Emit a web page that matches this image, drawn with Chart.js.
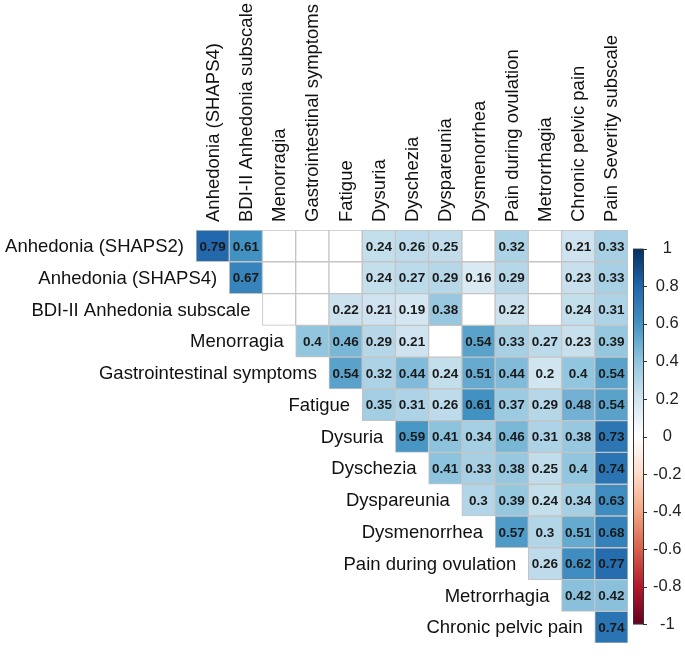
<!DOCTYPE html>
<html lang="en">
<head>
<meta charset="UTF-8">
<title>Correlation matrix</title>
<script src="https://cdn.jsdelivr.net/npm/chart.js"></script>
<style>
  body { margin: 0; background: #fff; }
  #wrap { width: 685px; height: 670px; }
</style>
</head>
<body>
<div id="wrap"><canvas id="corr" width="685" height="670"></canvas></div>
<script>
// row and column labels
const rowLabels = ['Anhedonia (SHAPS2)', 'Anhedonia (SHAPS4)', 'BDI-II Anhedonia subscale', 'Menorragia',
  'Gastrointestinal symptoms', 'Fatigue', 'Dysuria', 'Dyschezia', 'Dyspareunia', 'Dysmenorrhea',
  'Pain during ovulation', 'Metrorrhagia', 'Chronic pelvic pain'];
const colLabels = ['Anhedonia (SHAPS4)', 'BDI-II Anhedonia subscale', 'Menorragia', 'Gastrointestinal symptoms',
  'Fatigue', 'Dysuria', 'Dyschezia', 'Dyspareunia', 'Dysmenorrhea', 'Pain during ovulation',
  'Metrorrhagia', 'Chronic pelvic pain', 'Pain Severity subscale'];

// each row starts at the column with the same index; null = blank (not significant)
const rShaps2 = [0.79, 0.61, null, null, null, 0.24, 0.26, 0.25, null, 0.32, null, 0.21, 0.33];
const rShaps4 = [0.67, null, null, null, 0.24, 0.27, 0.29, 0.16, 0.29, null, 0.23, 0.33];
const rBdi = [null, null, 0.22, 0.21, 0.19, 0.38, null, 0.22, null, 0.24, 0.31];
const rMenorragia = [0.4, 0.46, 0.29, 0.21, null, 0.54, 0.33, 0.27, 0.23, 0.39];
const rGastro = [0.54, 0.32, 0.44, 0.24, 0.51, 0.44, 0.2, 0.4, 0.54];
const rFatigue = [0.35, 0.31, 0.26, 0.61, 0.37, 0.29, 0.48, 0.54];
const rDysuria = [0.59, 0.41, 0.34, 0.46, 0.31, 0.38, 0.73];
const rDyschezia = [0.41, 0.33, 0.38, 0.25, 0.4, 0.74];
const rDyspareunia = [0.3, 0.39, 0.24, 0.34, 0.63];
const rDysmenorrhea = [0.57, 0.3, 0.51, 0.68];
const rOvulation = [0.26, 0.62, 0.77];
const rMetrorrhagia = [0.42, 0.42];
const rPelvic = [0.74];

const colorbarTicks = [-1, -0.8, -0.6, -0.4, -0.2, 0, 0.2, 0.4, 0.6, 0.8, 1];

const rows = [rShaps2, rShaps4, rBdi, rMenorragia, rGastro, rFatigue, rDysuria, rDyschezia,
  rDyspareunia, rDysmenorrhea, rOvulation, rMetrorrhagia, rPelvic];

// RdBu palette from -1 to 1
const palette = ['#67001F', '#B2182B', '#D6604D', '#F4A582', '#FDDBC7', '#FFFFFF',
  '#D1E5F0', '#92C5DE', '#4393C3', '#2166AC', '#053061'];

const FONT = '"Liberation Sans", Arial, sans-serif';

function hexRgb(h) {
  return [1, 3, 5].map(i => parseInt(h.substr(i, 2), 16));
}
function colorFor(v) {
  if (v == null) return '#ffffff';
  const t = (v + 1) / 2 * (palette.length - 1);
  const i = Math.min(Math.floor(t), palette.length - 2);
  const f = t - i;
  const a = hexRgb(palette[i]), b = hexRgb(palette[i + 1]);
  const c = a.map((x, k) => Math.round(x + (b[k] - x) * f));
  return `rgb(${c[0]},${c[1]},${c[2]})`;
}
function valueAt(r, c) {
  if (c < r) return undefined;
  return rows[r][c - r];
}

// one floating-bar dataset per column
const datasets = colLabels.map((name, c) => ({
  label: name,
  data: rowLabels.map((_, r) => (r <= c ? [c, c + 1] : null)),
  backgroundColor: ctx => colorFor(valueAt(ctx.dataIndex, c)),
  borderColor: '#c4c4c4',
  borderWidth: 1,
  borderSkipped: false,
  grouped: false,
  barPercentage: 1,
  categoryPercentage: 1
}));

const extras = {
  id: 'extras',
  afterDatasetsDraw(chart) {
    const ctx = chart.ctx;
    const xs = chart.scales.x, ys = chart.scales.y;
    const area = chart.chartArea;
    ctx.save();
    // numbers in the cells
    ctx.font = 'bold 13.5px ' + FONT;
    ctx.fillStyle = '#1a1a1a';
    ctx.textAlign = 'center';
    ctx.textBaseline = 'middle';
    chart.data.datasets.forEach((ds, c) => {
      chart.getDatasetMeta(c).data.forEach((bar, r) => {
        const v = valueAt(r, c);
        if (v == null) return;
        const p = bar.getCenterPoint();
        ctx.fillText(String(v), p.x, p.y + 1);
      });
    });
    // staircase row labels
    ctx.font = '18.5px ' + FONT;
    ctx.fillStyle = '#111';
    ctx.textAlign = 'right';
    rowLabels.forEach((lab, r) => {
      ctx.fillText(lab, xs.getPixelForValue(r) - 12, ys.getPixelForValue(r) + 1);
    });
    // vertical column labels
    ctx.textAlign = 'left';
    colLabels.forEach((lab, c) => {
      ctx.save();
      ctx.translate(xs.getPixelForValue(c + 0.5) + 1, area.top - 8);
      ctx.rotate(-Math.PI / 2);
      ctx.fillText(lab, 0, 0);
      ctx.restore();
    });
    // colour bar
    const cb = chart.scales.cb;
    const top = cb.getPixelForValue(1), bot = cb.getPixelForValue(-1);
    const x0 = area.right + 5, w = 10;
    const g = ctx.createLinearGradient(0, bot, 0, top);
    palette.forEach((col, i) => g.addColorStop(i / (palette.length - 1), col));
    ctx.fillStyle = g;
    ctx.fillRect(x0, top, w, bot - top);
    ctx.strokeStyle = '#333';
    ctx.lineWidth = 1;
    ctx.strokeRect(x0 + 0.5, top + 0.5, w, bot - top - 1);
    ctx.beginPath();
    colorbarTicks.forEach(t => {
      const y = Math.round(cb.getPixelForValue(t)) + 0.5;
      ctx.moveTo(x0 + w, y);
      ctx.lineTo(x0 + w + 4, y);
    });
    ctx.stroke();
    ctx.restore();
  }
};

new Chart(document.getElementById('corr'), {
  type: 'bar',
  data: { labels: rowLabels, datasets: datasets },
  options: {
    indexAxis: 'y',
    responsive: false,
    animation: false,
    layout: { padding: { top: 0, bottom: 7, left: 0, right: 0 } },
    plugins: { legend: { display: false }, tooltip: { enabled: false } },
    scales: {
      x: {
        type: 'linear',
        position: 'top',
        min: 0,
        max: 13,
        grid: { display: false },
        border: { display: false },
        ticks: { display: false },
        afterFit: scale => { scale.height = 230; }
      },
      y: {
        type: 'category',
        grid: { display: false },
        border: { display: false },
        ticks: { display: false },
        afterFit: scale => { scale.width = 196; }
      },
      cb: {
        axis: 'y',
        type: 'linear',
        position: 'right',
        min: -1,
        max: 1,
        grid: { display: false },
        border: { display: false },
        afterBuildTicks: scale => { scale.ticks = colorbarTicks.map(v => ({ value: v })); },
        afterFit: scale => { scale.width = 57; },
        ticks: {
          crossAlign: 'center',
          padding: 17,
          color: '#222',
          font: { family: FONT, size: 16.5 },
          callback: v => String(Math.round(v * 10) / 10)
        }
      }
    }
  },
  plugins: [extras]
});
</script>
</body>
</html>
